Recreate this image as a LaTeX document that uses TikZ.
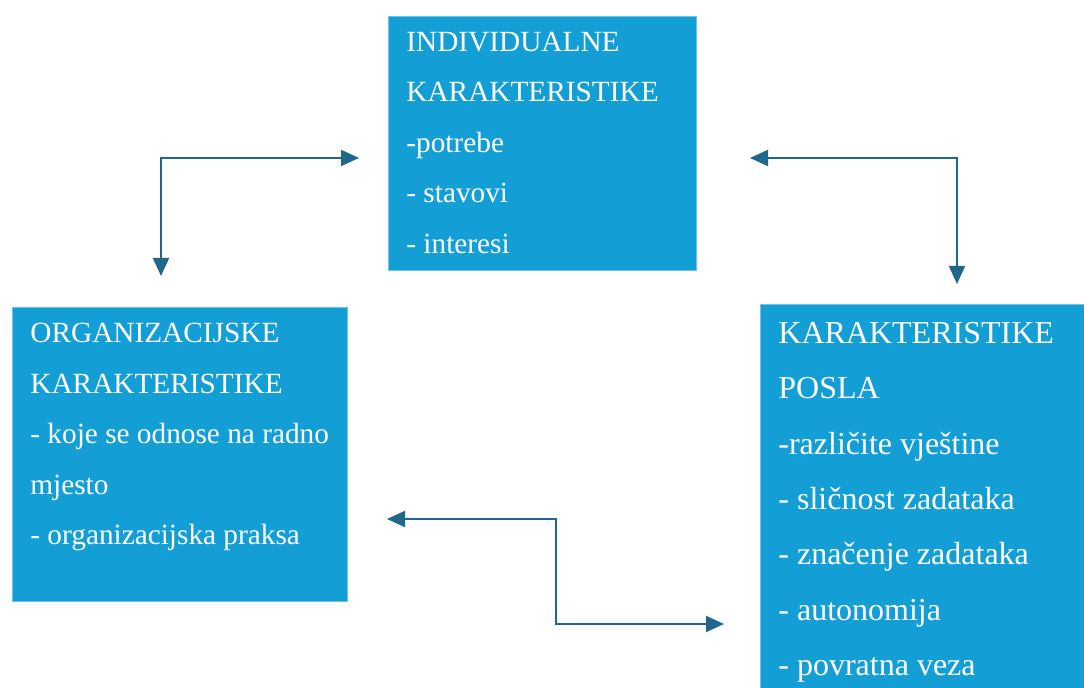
\documentclass[tikz,border=0pt]{standalone}
\usepackage{fontspec}
\setmainfont{Liberation Serif}
\usetikzlibrary{arrows.meta,positioning}
\definecolor{boxblue}{RGB}{19,159,214}
\definecolor{boxedge}{RGB}{110,195,232}
\definecolor{linkblue}{RGB}{31,104,140}

\begin{document}
\begin{tikzpicture}[x=0.5pt,y=-0.5pt,
  box/.style={draw=boxedge,fill=boxblue,line width=.6pt,inner sep=0pt,anchor=north west},
  boxtext/.style={text=white,align=left,anchor=north west,inner sep=0pt,font=\fontsize{14.65}{25.25}\selectfont},
  bigtext/.style={boxtext,font=\fontsize{16}{27.65}\selectfont},
  link/.style={draw=linkblue,line width=1pt,{Triangle[length=9pt,width=8pt]}-{Triangle[length=9pt,width=8pt]}}]
\useasboundingbox (0,0) rectangle (1084,688);

% boxes
\node [box,minimum width=154pt,minimum height=127pt] at (388,16) (ind) {};
\node [boxtext] at (406,31.6) (indtxt) {INDIVIDUALNE\\KARAKTERISTIKE\\-potrebe\\- stavovi\\- interesi};

\node [box,minimum width=167.5pt,minimum height=147pt] at (12,307) (org) {};
\node [boxtext] at (30,323) (orgtxt) {ORGANIZACIJSKE\\KARAKTERISTIKE\\- koje se odnose na radno\\mjesto\\- organizacijska praksa};

\node [box,minimum width=166pt,minimum height=196pt] at (760,304) (pos) {};
\node [bigtext] at (778,322) (postxt) {KARAKTERISTIKE\\POSLA\\-različite vještine\\- sličnost zadataka\\- značenje zadataka\\- autonomija\\- povratna veza};

% free ends of the links
\coordinate (l1) at (161,276);
\coordinate (l2) at (359,158);
\coordinate (r1) at (750,158);
\coordinate (r2) at (957,284);
\coordinate (b1) at (387,519);
\coordinate (b2) at (556,624);
\coordinate (b3) at (724,624);

\draw [link] (l1) |- (l2);
\draw [link] (r1) -| (r2);
\draw [link] (b1) -| (b2) -- (b3);
\end{tikzpicture}
\end{document}
